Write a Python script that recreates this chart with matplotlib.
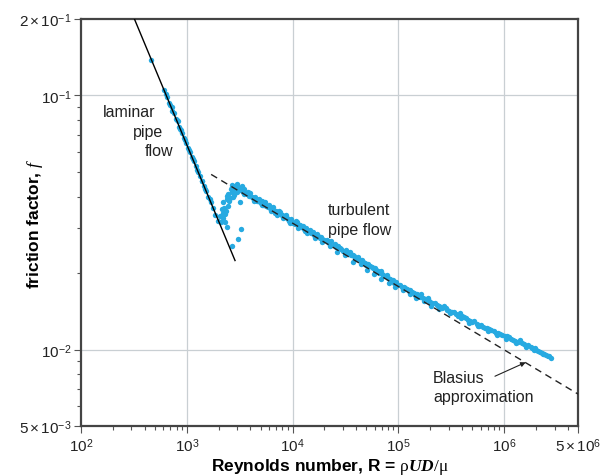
import numpy as np
import matplotlib
matplotlib.use("Agg")
import matplotlib.pyplot as plt
from matplotlib.ticker import FixedLocator, FixedFormatter, NullFormatter

plt.rcParams['font.family'] = ['Liberation Sans', 'DejaVu Sans']
plt.rcParams['mathtext.fontset'] = 'custom'
plt.rcParams['mathtext.rm'] = 'Liberation Sans'
plt.rcParams['mathtext.it'] = 'Liberation Serif:italic'
plt.rcParams['mathtext.bf'] = 'Liberation Sans:bold'
plt.rcParams['mathtext.sf'] = 'Liberation Serif'
plt.rcParams['mathtext.bfit'] = 'Liberation Serif:italic:bold'

# laminar data points
lam_R = [460, 610, 630, 650, 680, 700, 730, 760, 790, 820, 850, 880, 910, 950, 990,
         1030, 1080, 1120, 1170, 1220, 1280, 1340, 1400, 1460, 1530, 1600, 1680,
         1760, 1850, 1990, 720, 800, 870, 960, 1050, 1150, 1250, 1380, 1500, 1650]
lam_f = [0.138, 0.105, 0.101, 0.099, 0.093, 0.092, 0.087, 0.085, 0.081, 0.079,
         0.075, 0.073, 0.071, 0.068, 0.065, 0.062, 0.060, 0.057, 0.055, 0.053,
         0.050, 0.048, 0.046, 0.044, 0.042, 0.040, 0.038, 0.036, 0.034, 0.0321,
         0.090, 0.080, 0.074, 0.067, 0.061, 0.056, 0.051, 0.046, 0.043, 0.039]

# transition points
tr_R = [2060, 2138, 2213, 2297, 2383, 2467, 2655, 2754, 2965, 3071, 3185, 3230,
        3071, 2655, 2383, 2297, 2250, 2420, 2550, 2700, 2850, 2180, 2600, 2900,
        2100, 2350, 2500, 2800, 3000, 2450, 2200, 2650, 2750]
tr_f = [0.0336, 0.0357, 0.0380, 0.0341, 0.0391, 0.0368, 0.0416, 0.0428, 0.0416,
        0.0435, 0.0380, 0.0298, 0.0272, 0.0256, 0.0303, 0.0317, 0.0362, 0.0402,
        0.0395, 0.0438, 0.0442, 0.0330, 0.0430, 0.0425, 0.0318, 0.0350, 0.0385,
        0.0405, 0.0448, 0.0410, 0.0345, 0.0445, 0.0400]

# turbulent points
turb_R = [3200, 3400, 3500, 3700, 3900, 4000, 4200, 4400, 4600, 4800, 5000, 5300,
          5500, 5800, 6000, 6300, 6600, 7000, 7300, 7600, 8000, 8400, 8800, 9200,
          9600, 10000, 10500, 11000, 11500, 12000, 12800, 13500, 14000, 15000,
          16000, 17000, 18000, 19000, 20000, 21500, 23000, 24500, 26000, 28000,
          30000, 32000, 34000, 36000, 38000, 40000, 43000, 46000, 50000, 54000,
          58000, 62000, 66000, 70000, 75000, 80000, 86000, 92000, 100000, 108000,
          116000, 125000, 135000, 145000, 155000, 165000, 180000, 195000, 210000,
          230000, 250000, 270000, 290000, 320000, 350000, 380000, 420000, 460000,
          500000, 550000, 600000, 660000, 720000, 800000, 880000, 960000, 1060000,
          1160000, 1280000, 1400000, 1550000, 1700000, 1850000, 2000000, 2200000,
          2400000, 2600000, 2750000,
          3300, 3600, 3800, 4100, 4500, 4900, 5200, 5600, 6100, 6500, 6900, 7400,
          7900, 8600, 9000, 9800, 10800, 11800, 12500, 13200, 14500, 15500, 16500,
          17500, 18500, 19500, 21000, 22000, 25000, 27000, 29000, 31000, 33000,
          35000, 37000, 39000, 42000, 45000, 48000, 52000, 56000, 60000, 64000,
          68000, 72000, 78000, 83000, 89000, 96000, 104000, 112000, 120000, 130000,
          140000, 150000, 160000, 170000, 190000, 200000, 220000, 240000, 260000,
          280000, 300000, 335000, 365000, 400000, 440000, 480000, 520000, 580000,
          630000, 690000, 760000, 840000, 920000, 1010000, 1110000, 1220000,
          1340000, 1480000, 1620000, 1780000, 1950000, 2100000, 2300000, 2500000,
          2680000,
          3450, 4300, 5100, 6200, 7200, 8200, 9400, 11200, 13800, 16200, 19200,
          22500, 26500, 31500, 37500, 44000, 51000, 59000, 69000, 81000, 94000,
          110000, 128000, 148000, 175000, 205000, 245000, 310000, 390000, 470000,
          570000, 700000, 860000, 1050000, 1300000, 1600000, 1900000, 2350000]
turb_f = [0.0425, 0.0418, 0.0428, 0.0410, 0.0402, 0.0412, 0.0395, 0.0398, 0.0385,
          0.0390, 0.0378, 0.0372, 0.0380, 0.0364, 0.0370, 0.0358, 0.0355, 0.0350,
          0.0343, 0.0348, 0.0337, 0.0334, 0.0330, 0.0322, 0.0325, 0.0316, 0.0312,
          0.0318, 0.0306, 0.0303, 0.0298, 0.0300, 0.0292, 0.0287, 0.0283, 0.0286,
          0.0275, 0.0272, 0.0269, 0.0265, 0.0268, 0.0257, 0.0254, 0.0250, 0.0244,
          0.0246, 0.0238, 0.0236, 0.0233, 0.0228, 0.0225, 0.0222, 0.0216, 0.0213,
          0.0209, 0.0206, 0.0200, 0.0198, 0.0195, 0.0192, 0.0188, 0.0183, 0.0180,
          0.0176, 0.0174, 0.0170, 0.0168, 0.0164, 0.0162, 0.0165, 0.0158, 0.0155,
          0.0152, 0.0150, 0.0147, 0.0149, 0.0143, 0.0140, 0.0138, 0.0139, 0.0134,
          0.0131, 0.0128, 0.0126, 0.0125, 0.0121, 0.0120, 0.0118, 0.0116, 0.0114,
          0.0113, 0.0110, 0.0108, 0.0109, 0.0105, 0.0104, 0.0101, 0.0100, 0.0098,
          0.0096, 0.0094, 0.00925,
          0.0440, 0.0412, 0.0418, 0.0400, 0.0392, 0.0382, 0.0385, 0.0368, 0.0362,
          0.0365, 0.0345, 0.0352, 0.0340, 0.0338, 0.0326, 0.0318, 0.0321, 0.0310,
          0.0306, 0.0294, 0.0295, 0.0290, 0.0279, 0.0280, 0.0278, 0.0268, 0.0270,
          0.0262, 0.0260, 0.0256, 0.0248, 0.0240, 0.0243, 0.0241, 0.0235, 0.0230,
          0.0231, 0.0226, 0.0219, 0.0218, 0.0211, 0.0210, 0.0204, 0.0203, 0.0196,
          0.0196, 0.0190, 0.0187, 0.0184, 0.0179, 0.0177, 0.0173, 0.0171, 0.0167,
          0.0166, 0.0161, 0.0160, 0.0160, 0.0154, 0.0153, 0.0149, 0.0146, 0.0146,
          0.0142, 0.0141, 0.0136, 0.0136, 0.0133, 0.0130, 0.0129, 0.0124, 0.0123,
          0.0121, 0.0119, 0.0116, 0.0115, 0.0113, 0.0112, 0.0109, 0.0107, 0.0106,
          0.0103, 0.0102, 0.0101, 0.0099, 0.0097, 0.0095, 0.0094,
          0.0408, 0.0385, 0.0370, 0.0352, 0.0340, 0.0330, 0.0316, 0.0302, 0.0288,
          0.0276, 0.0264, 0.0256, 0.0243, 0.0236, 0.0222, 0.0218, 0.0205, 0.0199,
          0.0190, 0.0183, 0.0176, 0.0171, 0.0166, 0.0160, 0.0155, 0.0149, 0.0145,
          0.0139, 0.0133, 0.0127, 0.0124, 0.0118, 0.0114, 0.0110, 0.0106, 0.0102,
          0.0100, 0.0096]

# reference lines (end points)
lamline_R = [320, 2860]
lamline_f = [0.2, 0.0224]
blas_R = [1700, 5e6]
blas_f = [0.0489, 0.00668]

xticks = [1e2, 1e3, 1e4, 1e5, 1e6, 5e6]
xlabels = [r'$10^{2}$', r'$10^{3}$', r'$10^{4}$', r'$10^{5}$', r'$10^{6}$', r'$5\times10^{6}$']
yticks = [5e-3, 1e-2, 1e-1, 2e-1]
ylabels = [r'$5\times10^{-3}$', r'$10^{-2}$', r'$10^{-1}$', r'$2\times10^{-1}$']

fig = plt.figure(figsize=(6.07, 4.77), dpi=100)
ax = fig.add_axes([81/607, 50/477, 497/607, 407/477])

dot = '#27aae1'
ax.scatter(lam_R, lam_f, s=15, color=dot, lw=0, zorder=2)
ax.scatter(tr_R, tr_f, s=15, color=dot, lw=0, zorder=2)
ax.scatter(turb_R, turb_f, s=15, color=dot, lw=0, zorder=2)
ax.plot(lamline_R, lamline_f, color='black', lw=1.0, zorder=3)
ax.plot(blas_R, blas_f, color='#222222', lw=1.0, ls=(0, (5, 3.5)), zorder=3)

ax.set_xscale('log')
ax.set_yscale('log')
ax.set_xlim(1e2, 5e6)
ax.set_ylim(5e-3, 2e-1)

ax.xaxis.set_major_locator(FixedLocator(xticks))
ax.xaxis.set_major_formatter(FixedFormatter(xlabels))
ax.yaxis.set_major_locator(FixedLocator(yticks))
ax.yaxis.set_major_formatter(FixedFormatter(ylabels))
xminor = [m * 10**e for e in range(2, 7) for m in range(2, 10) if m * 10**e < 5e6]
yminor = [m * 10**e for e in (-3, -2) for m in range(2, 10) if 5e-3 < m * 10**e < 0.1]
ax.xaxis.set_minor_locator(FixedLocator(xminor))
ax.yaxis.set_minor_locator(FixedLocator(yminor))
ax.xaxis.set_minor_formatter(NullFormatter())
ax.yaxis.set_minor_formatter(NullFormatter())

ax.tick_params(which='both', direction='out', color='#555555', width=0.8,
               labelsize=11, labelcolor='#222222')
ax.tick_params(which='major', length=5, pad=2)
ax.tick_params(which='minor', length=3)

for v in [1e3, 1e4, 1e5, 1e6]:
    ax.axvline(v, color='#c9cfd3', lw=0.9, zorder=1)
for v in [1e-2, 1e-1]:
    ax.axhline(v, color='#c9cfd3', lw=0.9, zorder=1)

for s in ax.spines.values():
    s.set_linewidth(1.6)
    s.set_color('#444444')

ax.set_xlabel(r'Reynolds number, R = $\mathsf{\rho}\mathbfit{UD}\mathsf{/\mu}$',
              fontsize=12.5, fontweight='bold')
ax.xaxis.set_label_coords(0.5, -0.098)
ax.xaxis.label.set_va('center')
ax.set_ylabel(r'friction factor, $f$', fontsize=12.5, fontweight='bold')
ax.yaxis.set_label_coords(-0.0926, 0.5)
ax.yaxis.label.set_va('center')

tk = dict(transform=ax.transAxes, fontsize=11.5, color='#222222', va='center', ha='left')
ax.text(0.0443, 0.7715, 'laminar', **tk)
ax.text(0.1046, 0.7224, 'pipe', **tk)
ax.text(0.1288, 0.6757, 'flow', **tk)
ax.text(0.497, 0.533, 'turbulent', **tk)
ax.text(0.497, 0.484, 'pipe flow', **tk)
ax.text(0.708, 0.120, 'Blasius', **tk)
ax.text(0.708, 0.0737, 'approximation', **tk)
ax.annotate('', xy=(1.6e6, 0.0089), xytext=(8.2e5, 0.00785),
            arrowprops=dict(arrowstyle='-|>', color='#222222', lw=0.8,
                            mutation_scale=7, shrinkA=0, shrinkB=0))

fig.savefig('out.png', dpi=100)
